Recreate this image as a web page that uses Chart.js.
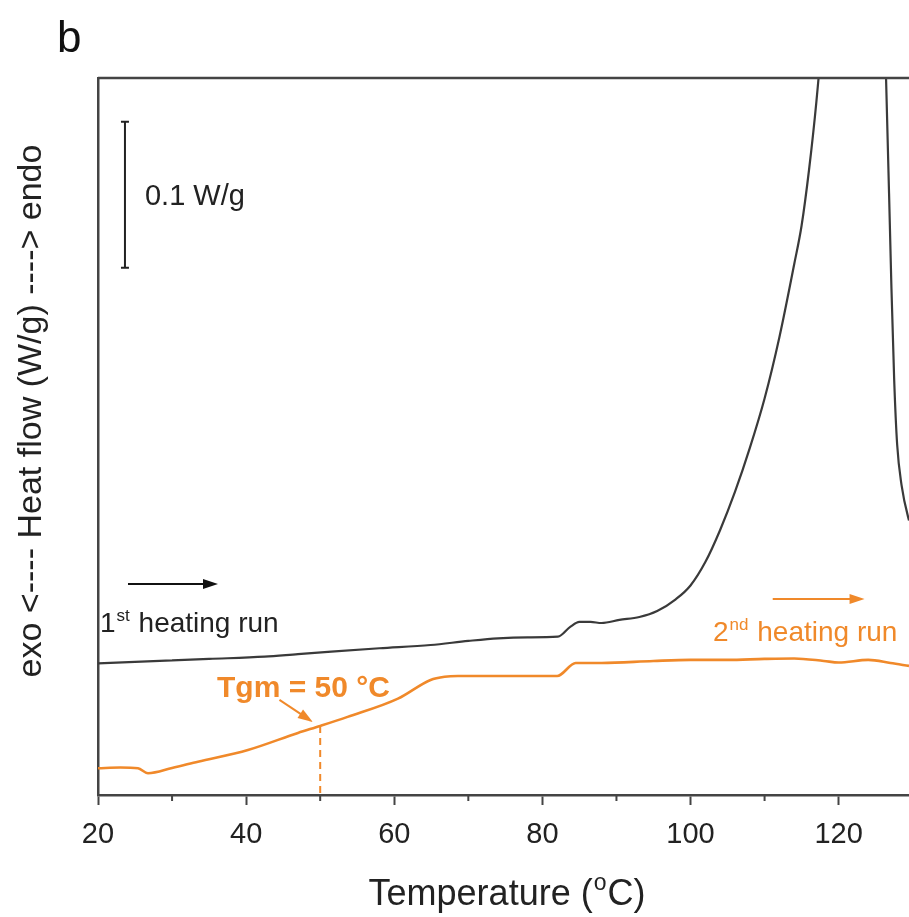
<!DOCTYPE html>
<html>
<head>
<meta charset="utf-8">
<script src="https://cdn.jsdelivr.net/npm/chart.js@4.4.1/dist/chart.umd.min.js"></script>
<style>
  html, body { margin: 0; padding: 0; background: #fff; }
  canvas { display: block; }
</style>
</head>
<body>
<canvas id="dsc" width="909" height="917"></canvas>
<script>
// 1st heating run (black) - temperature in degC, heat flow in W/g (arbitrary offset)
const temp1 = [20, 25, 30, 35, 42.5, 47, 51.5, 58, 64.9, 70, 74, 78, 82.1, 83.8, 85, 86.5, 88, 90.4, 93.1, 95.5, 98, 100, 102, 104, 106, 108, 110, 112, 114, 115, 116, 117, 118, 119, 121, 123, 125, 126.4, 127.1, 127.5, 127.9, 128.5, 129.5, 130];
const flow1 = [0.0902, 0.0912, 0.0922, 0.0932, 0.0947, 0.0965, 0.0982, 0.1005, 0.1027, 0.1055, 0.1073, 0.1080, 0.1084, 0.1153, 0.1185, 0.1185, 0.1178, 0.1199, 0.1219, 0.1260, 0.1340, 0.1435, 0.1595, 0.1815, 0.2075, 0.2375, 0.2715, 0.3135, 0.3635, 0.3900, 0.4280, 0.4750, 0.5350, 0.6100, 0.7200, 0.7400, 0.6600, 0.4911, 0.3527, 0.2842, 0.2400, 0.2120, 0.1880, 0.1800];

// 2nd heating run (orange)
const temp2 = [20, 23, 25.4, 26.75, 30, 33.5, 40.24, 47, 50, 53.7, 60.5, 64.9, 66.8, 68.6, 75, 82, 84.5, 88, 95, 100, 105, 110, 114, 118, 120, 124, 127, 129.5];
const flow2 = [0.0183, 0.0188, 0.0183, 0.0149, 0.0185, 0.0228, 0.0308, 0.0425, 0.0473, 0.0535, 0.0660, 0.0788, 0.0810, 0.0815, 0.0815, 0.0815, 0.0904, 0.0904, 0.0918, 0.0925, 0.0925, 0.0932, 0.0935, 0.0918, 0.0907, 0.0925, 0.0904, 0.0884];

// x ticks
const majorTicks = [20, 40, 60, 80, 100, 120];
const minorTicks = [30, 50, 70, 90, 110];

// glass transition marker
const tgm = 50;
const tgmFlow = 0.0473;

// 0.1 W/g scale bar
const barTemp = 23.64;
const barFlow = [0.361, 0.461];

const BLACK = "#3a3a3a";
const ORANGE = "#f0892a";
const FONT = "'Liberation Sans', Arial, sans-serif";

function pts(xs, ys) {
    return xs.map((x, i) => ({ x: x, y: ys[i] }));
}

// draws an arrow with a filled head, in data coordinates
function arrow(ctx, sx, sy, x0, y0, x1, y1, color) {
    const ax = sx.getPixelForValue(x0), ay = sy.getPixelForValue(y0);
    const bx = sx.getPixelForValue(x1), by = sy.getPixelForValue(y1);
    const ang = Math.atan2(by - ay, bx - ax);
    const len = 15, half = 5;
    ctx.strokeStyle = color;
    ctx.fillStyle = color;
    ctx.lineWidth = 2;
    ctx.beginPath();
    ctx.moveTo(ax, ay);
    ctx.lineTo(bx - Math.cos(ang) * len * 0.8, by - Math.sin(ang) * len * 0.8);
    ctx.stroke();
    ctx.beginPath();
    ctx.moveTo(bx, by);
    ctx.lineTo(bx - Math.cos(ang) * len - Math.sin(ang) * half, by - Math.sin(ang) * len + Math.cos(ang) * half);
    ctx.lineTo(bx - Math.cos(ang) * len + Math.sin(ang) * half, by - Math.sin(ang) * len - Math.cos(ang) * half);
    ctx.closePath();
    ctx.fill();
}

// text with a superscript part: base, sup, rest
function supText(ctx, x, y, base, sup, rest, size, color, weight) {
    const w = weight || "normal";
    ctx.fillStyle = color;
    ctx.textAlign = "left";
    ctx.textBaseline = "alphabetic";
    ctx.font = w + " " + size + "px " + FONT;
    ctx.fillText(base, x, y);
    let cx = x + ctx.measureText(base).width;
    ctx.font = w + " " + Math.round(size * 0.62) + "px " + FONT;
    ctx.fillText(sup, cx + 1, y - size * 0.38);
    cx += ctx.measureText(sup).width + 2;
    ctx.font = w + " " + size + "px " + FONT;
    ctx.fillText(rest, cx, y);
}

const decorations = {
    id: "decorations",
    afterDraw(chart) {
        const ctx = chart.ctx;
        const sx = chart.scales.x, sy = chart.scales.y;
        const a = chart.chartArea;
        ctx.save();

        // top frame line
        ctx.strokeStyle = "#444";
        ctx.lineWidth = 2.5;
        ctx.beginPath();
        ctx.moveTo(a.left, a.top);
        ctx.lineTo(a.right, a.top);
        ctx.stroke();

        // minor ticks
        ctx.lineWidth = 2;
        minorTicks.forEach(v => {
            const px = sx.getPixelForValue(v);
            ctx.beginPath();
            ctx.moveTo(px, a.bottom);
            ctx.lineTo(px, a.bottom + 6);
            ctx.stroke();
        });

        // scale bar
        const bx = sx.getPixelForValue(barTemp);
        const b0 = sy.getPixelForValue(barFlow[0]), b1 = sy.getPixelForValue(barFlow[1]);
        ctx.strokeStyle = "#222";
        ctx.lineWidth = 2;
        ctx.beginPath();
        ctx.moveTo(bx, b0); ctx.lineTo(bx, b1);
        ctx.moveTo(bx - 4, b0); ctx.lineTo(bx + 4, b0);
        ctx.moveTo(bx - 4, b1); ctx.lineTo(bx + 4, b1);
        ctx.stroke();
        ctx.fillStyle = "#222";
        ctx.font = "29px " + FONT;
        ctx.textAlign = "left";
        ctx.fillText("0.1 W/g", bx + 20, (b0 + b1) / 2 + 10);

        // heating-run arrows and labels
        arrow(ctx, sx, sy, 24.05, 0.1445, 36.2, 0.1445, "#111");
        supText(ctx, 100, 632, "1", "st", " heating run", 28, "#222");
        arrow(ctx, sx, sy, 111.1, 0.1342, 123.5, 0.1342, ORANGE);
        supText(ctx, 713, 641, "2", "nd", " heating run", 28, ORANGE);

        // Tgm marker
        ctx.fillStyle = ORANGE;
        ctx.font = "bold 30px " + FONT;
        ctx.fillText("Tgm = 50 \u00B0C", 217, 697);
        arrow(ctx, sx, sy, 44.5, 0.0651, 49.0, 0.0500, ORANGE);

        // panel letter
        ctx.fillStyle = "#111";
        ctx.font = "44px " + FONT;
        ctx.fillText("b", 57, 52);

        // x title
        ctx.fillStyle = "#222";
        const t1 = "Temperature (", t2 = "o", t3 = "C)";
        ctx.font = "36px " + FONT;
        const w1 = ctx.measureText(t1).width, w3 = ctx.measureText(t3).width;
        ctx.font = "23px " + FONT;
        const w2 = ctx.measureText(t2).width;
        const tx = 507 - (w1 + w2 + w3 + 2) / 2;
        ctx.font = "36px " + FONT;
        ctx.fillText(t1, tx, 905);
        ctx.font = "23px " + FONT;
        ctx.fillText(t2, tx + w1 + 1, 890);
        ctx.font = "36px " + FONT;
        ctx.fillText(t3, tx + w1 + w2 + 2, 905);

        // y title
        ctx.save();
        ctx.translate(41, 411);
        ctx.rotate(-Math.PI / 2);
        ctx.textAlign = "center";
        ctx.font = "34px " + FONT;
        ctx.fillText("exo <---- Heat flow (W/g) ----> endo", 0, 0);
        ctx.restore();

        ctx.restore();
    }
};

new Chart(document.getElementById("dsc"), {
    type: "scatter",
    data: {
        datasets: [
            {
                label: "1st heating run",
                data: pts(temp1, flow1),
                showLine: true,
                borderColor: BLACK,
                borderWidth: 2.2,
                pointRadius: 0,
                cubicInterpolationMode: "monotone"
            },
            {
                label: "2nd heating run",
                data: pts(temp2, flow2),
                showLine: true,
                borderColor: ORANGE,
                borderWidth: 2.6,
                pointRadius: 0,
                cubicInterpolationMode: "monotone"
            },
            {
                label: "Tgm",
                data: [{ x: tgm, y: tgmFlow }, { x: tgm, y: 0 }],
                showLine: true,
                borderColor: ORANGE,
                borderWidth: 2,
                borderDash: [7, 5],
                pointRadius: 0
            }
        ]
    },
    options: {
        responsive: false,
        animation: false,
        layout: { padding: { top: 78, right: 0, left: 0, bottom: 0 } },
        plugins: { legend: { display: false }, tooltip: { enabled: false } },
        scales: {
            x: {
                type: "linear",
                min: 20,
                max: 129.5,
                afterFit(s) { s.height = 122; },
                afterBuildTicks(s) { s.ticks = majorTicks.map(v => ({ value: v })); },
                border: { display: true, color: "#444", width: 2.5 },
                grid: { drawOnChartArea: false, drawTicks: true, tickLength: 10, tickColor: "#444", tickWidth: 2 },
                ticks: { color: "#222", font: { family: FONT, size: 29 }, padding: 13, maxRotation: 0 }
            },
            y: {
                min: 0,
                max: 0.491,
                afterFit(s) { s.width = 98; },
                border: { display: true, color: "#444", width: 2.5 },
                grid: { display: false },
                ticks: { display: false }
            }
        }
    },
    plugins: [decorations]
});
</script>
</body>
</html>
